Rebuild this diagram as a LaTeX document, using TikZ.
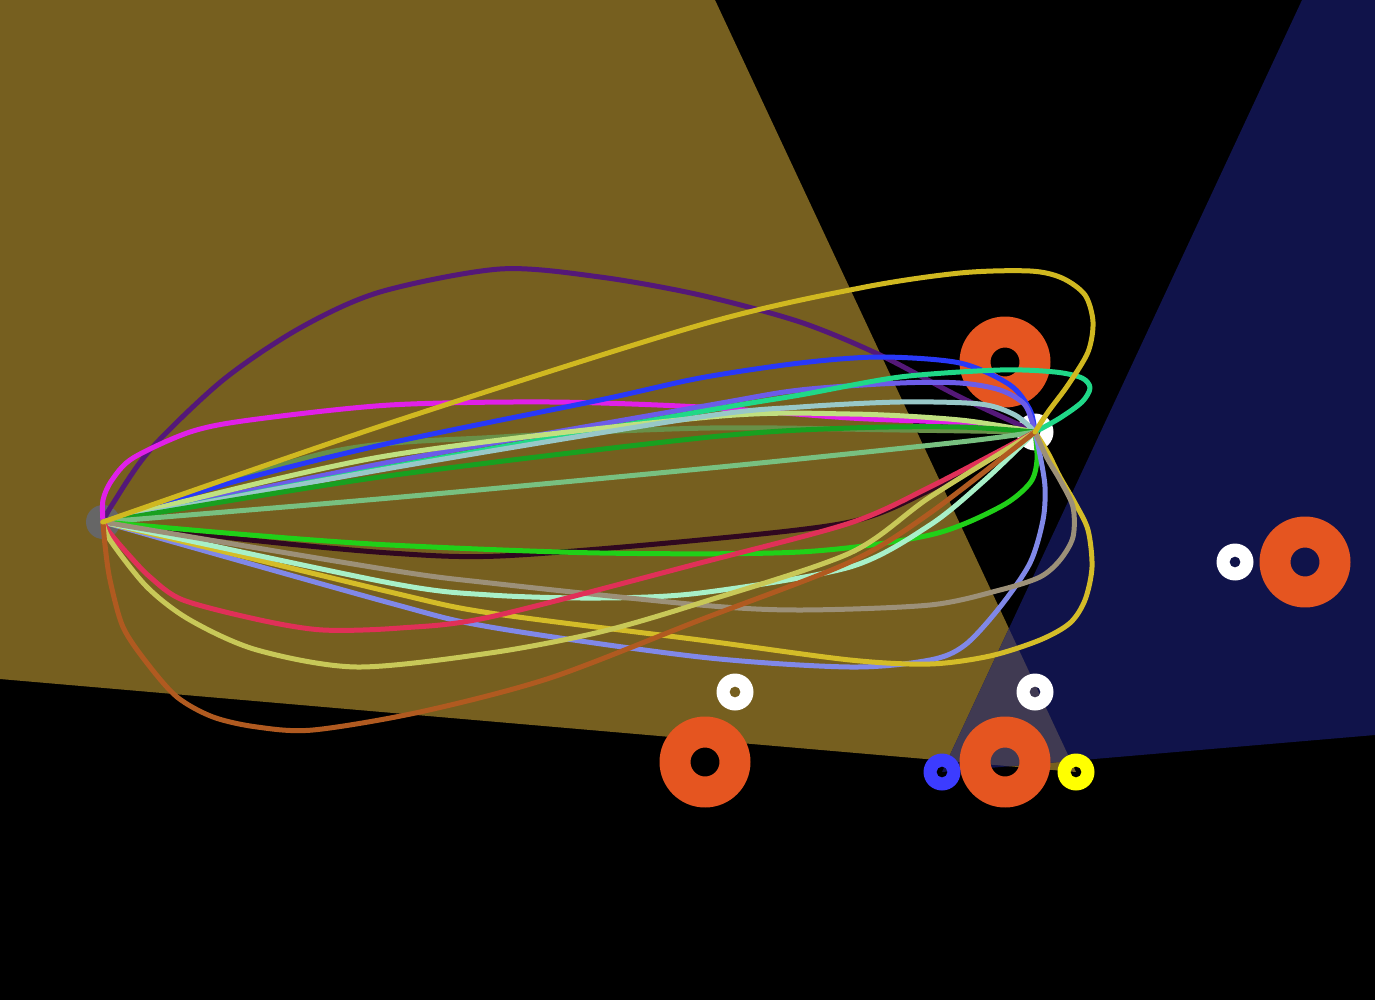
\documentclass[tikz,border=0pt]{standalone}
\usepackage{tikz}

\definecolor{olivecone}{RGB}{118,95,31}
\definecolor{navycone}{RGB}{16,19,74}
\definecolor{overlapcone}{RGB}{64,58,82}
\definecolor{robotorange}{RGB}{229,85,32}
\definecolor{markblue}{RGB}{60,60,255}
\definecolor{markyellow}{RGB}{255,255,0}
\definecolor{startgray}{RGB}{102,102,102}

\definecolor{tpurple}{RGB}{84,24,120}
\definecolor{tmagenta}{RGB}{224,32,232}
\definecolor{tgold}{RGB}{208,184,32}
\definecolor{tgoldlow}{RGB}{212,188,40}
\definecolor{tblue}{RGB}{40,56,248}
\definecolor{tslate}{RGB}{108,92,232}
\definecolor{tsea}{RGB}{32,216,136}
\definecolor{tyellowgreen}{RGB}{192,224,128}
\definecolor{tcyan}{RGB}{152,200,200}
\definecolor{tgreen}{RGB}{24,160,32}
\definecolor{tdullgreen}{RGB}{104,144,72}
\definecolor{tlightgreen}{RGB}{120,192,128}
\definecolor{tbrightgreen}{RGB}{32,208,24}
\definecolor{tmaroon}{RGB}{48,8,32}
\definecolor{ttan}{RGB}{156,144,120}
\definecolor{tmint}{RGB}{168,240,200}
\definecolor{tperiwinkle}{RGB}{128,136,232}
\definecolor{tcrimson}{RGB}{224,48,88}
\definecolor{tlightyellow}{RGB}{200,200,88}
\definecolor{tbrown}{RGB}{176,90,32}

\tikzstyle{traj} = [line width=0.1cm, line join=round, line cap=round, tension=0.5]
\newcommand{\drawring}[4]{\fill[#1, even odd rule] (#2) circle (#3) circle (#4);}

\begin{document}
\begin{tikzpicture}[x=0.02cm, y=-0.02cm]
    \useasboundingbox (0,0) rectangle (1375,1000);
    \fill[black] (0,0) rectangle (1375,1000);

    % view cones
    \begin{scope}
        \clip (0,0) rectangle (1375,1000);
        \fill[olivecone] (1076,772) -- (715,0) -- (0,0) -- (0,679) -- cycle;
        \fill[navycone] (942,772) -- (1302,0) -- (1375,0) -- (1375,735) -- cycle;
        \clip (1076,772) -- (715,0) -- (0,0) -- (0,679) -- cycle;
        \fill[overlapcone] (942,772) -- (1302,0) -- (1375,0) -- (1375,735) -- cycle;
    \end{scope}

    % obstacles and markers
    \drawring{robotorange}{1005,362}{0.91cm}{0.29cm}
    \drawring{robotorange}{1305,562}{0.91cm}{0.29cm}
    \drawring{robotorange}{705,762}{0.91cm}{0.29cm}
    \drawring{robotorange}{1005,762}{0.91cm}{0.29cm}
    \drawring{white}{735,692}{0.37cm}{0.11cm}
    \drawring{white}{1035,692}{0.37cm}{0.11cm}
    \drawring{white}{1235,562}{0.37cm}{0.11cm}
    \drawring{white}{1035,432}{0.37cm}{0.11cm}
    \drawring{markblue}{942,772}{0.37cm}{0.11cm}
    \drawring{markyellow}{1076,772}{0.37cm}{0.11cm}

    \coordinate (start) at (103,522);
    \coordinate (goal) at (1035,432);
    \fill[startgray] (start) circle (0.34cm);

    % trajectories
    \draw[traj, tpurple] plot[smooth] coordinates {(start) (112,505) (150,450) (223,380) (300,328) (380,292) (500,269) (600,277) (700,295) (800,322) (880,355) (960,397) (goal)};
    \draw[traj, tmagenta] plot[smooth] coordinates {(start) (103,500) (112,480) (133,458) (190,432) (250,420) (390,405) (550,402) (700,407) (850,418) (960,423) (goal)};
    \draw[traj, tdullgreen] plot[smooth] coordinates {(start) (330,452) (500,437) (710,428) (900,430) (goal)};
    \draw[traj, tblue] plot[smooth] coordinates {(start) (240,480) (390,443) (600,400) (700,378) (800,363) (880,357) (960,363) (1010,385) (1030,410) (goal)};
    \draw[traj, tslate] plot[smooth] coordinates {(start) (390,462) (710,405) (800,390) (900,383) (960,383) (1000,390) (1025,405) (goal)};
    \draw[traj, tsea] plot[smooth] coordinates {(start) (390,467) (710,410) (800,395) (900,377) (1000,370) (1055,372) (1082,378) (1090,388) (1082,402) (1060,418) (goal)};
    \draw[traj, tyellowgreen] plot[smooth] coordinates {(start) (380,457) (710,417) (850,414) (960,420) (goal)};
    \draw[traj, tcyan] plot[smooth] coordinates {(start) (380,470) (700,417) (800,407) (900,402) (980,404) (1015,415) (goal)};
    \draw[traj, tgreen] plot[smooth] coordinates {(start) (380,477) (710,437) (850,428) (960,427) (goal)};
    \draw[traj, tlightgreen] plot[smooth] coordinates {(start) (390,498) (710,468) (960,442) (goal)};
    \draw[traj, tmaroon] plot[smooth] coordinates {(start) (250,540) (390,553) (500,556) (700,540) (850,522) (930,490) (goal)};
    \draw[traj, tbrightgreen] plot[smooth] coordinates {(start) (250,535) (390,545) (600,553) (800,552) (930,535) (1000,507) (1030,483) (1037,460) (goal)};
    \draw[traj, tperiwinkle] plot[smooth] coordinates {(start) (390,603) (490,627) (700,657) (850,667) (930,660) (965,645) (1000,607) (1030,563) (1043,520) (1045,487) (1040,455) (goal)};
    \draw[traj, tgoldlow] plot[smooth] coordinates {(start) (390,592) (490,613) (700,640) (850,660) (930,664) (990,656) (1040,640) (1070,623) (1085,600) (1092,567) (1088,530) (1075,503) (1060,477) (1048,453) (goal)};
    \draw[traj, tmint] plot[smooth] coordinates {(start) (390,583) (490,595) (600,598) (700,593) (850,567) (930,525) (985,480) (goal)};
    \draw[traj, ttan] plot[smooth] coordinates {(start) (390,570) (490,583) (700,605) (800,610) (930,605) (1000,590) (1040,577) (1060,560) (1073,537) (1073,507) (1060,480) (1047,458) (goal)};
    \draw[traj, tcrimson] plot[smooth] coordinates {(start) (110,533) (127,553) (150,577) (183,600) (260,620) (323,630) (400,628) (490,617) (700,563) (850,523) (930,487) (goal)};
    \draw[traj, tlightyellow] plot[smooth] coordinates {(start) (110,540) (147,587) (190,620) (257,650) (357,667) (490,653) (600,632) (700,603) (850,553) (930,497) (goal)};
    \draw[traj, tbrown] plot[smooth] coordinates {(start) (105,545) (110,580) (123,627) (147,663) (177,697) (213,717) (257,727) (313,730) (420,712) (550,678) (700,620) (850,562) (930,513) (goal)};
    \draw[traj, tgold] plot[smooth] coordinates {(start) (390,423) (700,325) (860,288) (960,273) (1030,271) (1062,278) (1085,295) (1093,322) (1088,352) (1068,385) (1048,412) (goal)};
\end{tikzpicture}
\end{document}
